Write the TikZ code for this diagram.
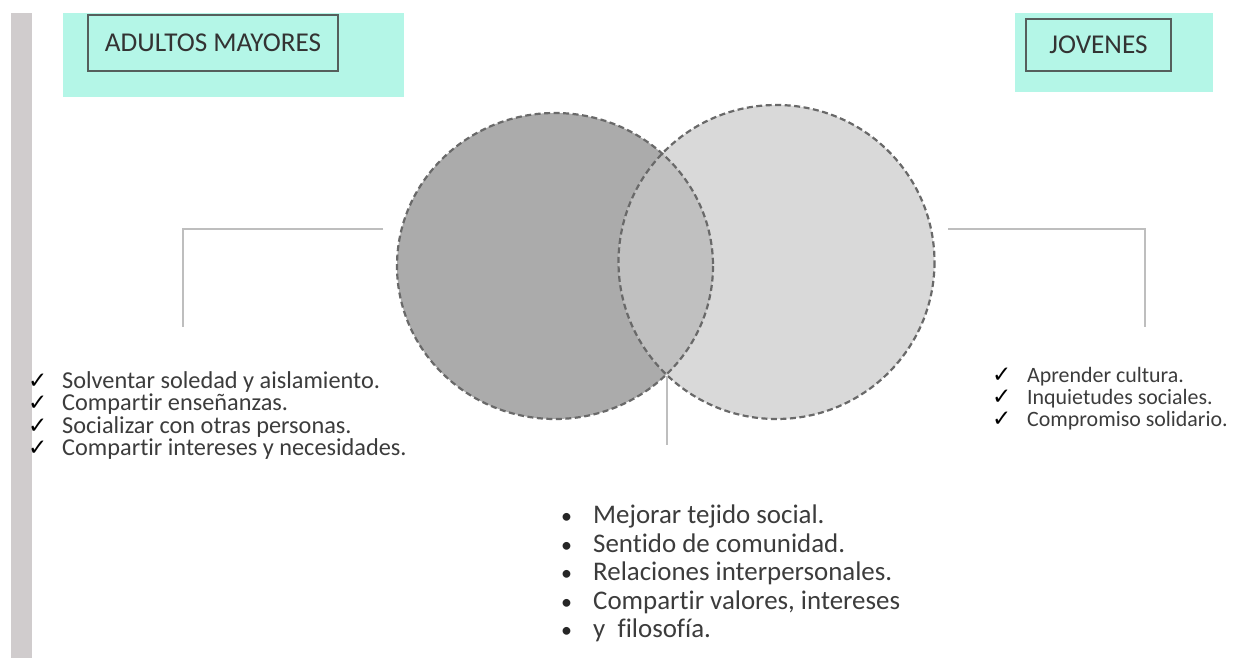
\documentclass[tikz,border=0pt]{standalone}
\usepackage{fontspec}
\setmainfont{Carlito}[Ligatures=NoCommon]
\newfontfamily\symfont{DejaVu Sans}
\definecolor{teal1}{RGB}{180,246,231}
\definecolor{barg}{RGB}{208,204,205}
\definecolor{cdark}{RGB}{171,171,171}
\definecolor{clight}{RGB}{217,217,217}
\definecolor{cmid}{RGB}{192,192,192}
\definecolor{dashc}{RGB}{105,105,105}
\definecolor{linec}{RGB}{190,190,190}
\definecolor{txt}{RGB}{60,60,60}
\definecolor{boxc}{RGB}{85,95,92}
\tikzset{
  tealbg/.style={fill=teal1, draw=none},
  titlebox/.style={draw=boxc, line width=1.6pt, text=black!80, inner sep=0pt, font=\fontsize{27.2}{30}\selectfont},
  circedge/.style={draw=dashc, line width=2.2pt, dash pattern=on 6pt off 3.5pt},
  conn/.style={draw=linec, line width=2pt},
  lefttxt/.style={anchor=base west, inner sep=0pt, text=txt, font=\fontsize{24.3}{26}\selectfont},
  righttxt/.style={anchor=base west, inner sep=0pt, text=txt, font=\fontsize{21.9}{25}\selectfont},
  midtxt/.style={anchor=base west, inner sep=0pt, text=txt, font=\fontsize{26.9}{30}\selectfont},
  chk/.style={anchor=base west, inner sep=0pt, text=black, font=\symfont\fontsize{23}{24}\selectfont},
  bul/.style={anchor=base west, inner sep=0pt, text=black!85, font=\fontsize{22}{26}\selectfont}
}
\begin{document}
\begin{tikzpicture}[x=1pt,y=-1pt]
\useasboundingbox (0,0) rectangle (1254,658);
\fill[white] (0,0) rectangle (1254,658);
% side bar
\fill[barg] (11,13) rectangle (32,658);
% headers
\fill[tealbg] (63,13) rectangle (404,97);
\node[titlebox, minimum width=250pt, minimum height=56pt] (hA) at (213,43) {ADULTOS MAYORES};
\fill[tealbg] (1015,13) rectangle (1213,92);
\node[titlebox, minimum width=145pt, minimum height=52pt] (hJ) at (1098.5,45) {JOVENES};
% circles
\coordinate (cL) at (555,266);
\coordinate (cR) at (776.5,262);
\fill[cdark] (cL) ellipse [x radius=158, y radius=153];
\fill[clight] (cR) ellipse [x radius=158, y radius=157];
\begin{scope}
  \clip (cL) ellipse [x radius=158, y radius=153];
  \fill[cmid] (cR) ellipse [x radius=158, y radius=157];
\end{scope}
\path[circedge] (cL) ellipse [x radius=158, y radius=153];
\path[circedge] (cR) ellipse [x radius=158, y radius=157];
% connectors
\coordinate (lA) at (383,229);
\coordinate (lB) at (183,327);
\coordinate (rA) at (948,229);
\coordinate (rB) at (1145,327);
\coordinate (mA) at (667,376);
\coordinate (mB) at (667,445);
\draw[conn] (lA) -| (lB);
\draw[conn] (rA) -| (rB);
\draw[conn] (mA) -- (mB);
% left list
\node[chk] (lc1) at (28,388) {✓};
\node[lefttxt] (l1) at (62,388) {Solventar soledad y aislamiento.};
\node[chk] (lc2) at (28,410.5) {✓};
\node[lefttxt] (l2) at (62,410.5) {Compartir enseñanzas.};
\node[chk] (lc3) at (28,433) {✓};
\node[lefttxt] (l3) at (62,433) {Socializar con otras personas.};
\node[chk] (lc4) at (28,455.5) {✓};
\node[lefttxt] (l4) at (62,455.5) {Compartir intereses y necesidades.};
% right list
\node[chk] (rc1) at (992,382) {✓};
\node[righttxt] (r1) at (1027,382) {Aprender cultura.};
\node[chk] (rc2) at (992,404) {✓};
\node[righttxt] (r2) at (1027,404) {Inquietudes sociales.};
\node[chk] (rc3) at (992,426) {✓};
\node[righttxt] (r3) at (1027,426) {Compromiso solidario.};
% middle list
\node[bul] (mb1) at (561,523) {•};
\node[midtxt] (m1) at (593,523) {Mejorar tejido social.};
\node[bul] (mb2) at (561,552) {•};
\node[midtxt] (m2) at (593,552) {Sentido de comunidad.};
\node[bul] (mb3) at (561,580.5) {•};
\node[midtxt] (m3) at (593,580.5) {Relaciones interpersonales.};
\node[bul] (mb4) at (561,609) {•};
\node[midtxt] (m4) at (593,609) {Compartir valores, intereses};
\node[bul] (mb5) at (561,637.5) {•};
\node[midtxt] (m5) at (593,637.5) {y\ \ filosofía.};
\end{tikzpicture}
\end{document}
